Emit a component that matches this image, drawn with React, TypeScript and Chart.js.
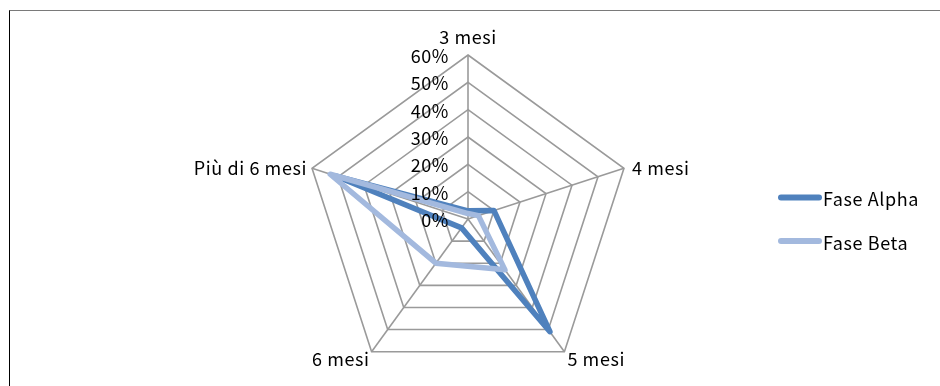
import React, { useEffect, useRef } from "react";
import { Chart, registerables } from "chart.js";

Chart.register(...registerables);

const categories = ["3 mesi", "4 mesi", "5 mesi", "6 mesi", "Più di 6 mesi"];
const faseAlpha = [3, 10, 51, 4, 51];
const faseBeta = [2, 4, 23, 20, 53];
const tickValues = [0, 10, 20, 30, 40, 50, 60];
const tickLabels = ["0%", "10%", "20%", "30%", "40%", "50%", "60%"];
const seriesNames = ["Fase Alpha", "Fase Beta"];
const seriesColors = ["#4f81bd", "#a3b9de"];

const FONT_FAMILY = '"Noto Sans CJK JP", "Noto Sans", sans-serif';
const FONT_SIZE = 18;
const LETTER_SPACING = "0.6px";

// label placement relative to the outer vertex of each axis
const labelPlacement = [
  { align: "center", dx: 0, dy: -18 },
  { align: "left", dx: 8, dy: 0 },
  { align: "left", dx: 3, dy: 7 },
  { align: "right", dx: -2, dy: 7 },
  { align: "right", dx: -5, dy: 0 },
];

const textPlugin = {
  id: "customText",
  afterDatasetsDraw(chart: any) {
    const ctx = chart.ctx;
    const scale = chart.scales.r;
    ctx.save();
    ctx.fillStyle = "#000";
    ctx.font = `${FONT_SIZE}px ${FONT_FAMILY}`;
    try {
      (ctx as any).letterSpacing = LETTER_SPACING;
    } catch (e) {}
    ctx.textBaseline = "middle";

    // tick labels along the first axis, to its left
    tickValues.forEach((v, i) => {
      const p = scale.getPointPositionForValue(0, v);
      ctx.textAlign = "right";
      ctx.fillText(tickLabels[i], p.x - 19, p.y + 1);
    });

    // point labels
    categories.forEach((c, i) => {
      const p = scale.getPointPositionForValue(i, scale.max);
      const pl = labelPlacement[i];
      ctx.textAlign = pl.align;
      ctx.fillText(c, p.x + pl.dx, p.y + pl.dy);
    });

    // legend
    const legendX = 778;
    const legendY = [197.5, 241];
    seriesNames.forEach((name, i) => {
      ctx.strokeStyle = seriesColors[i];
      ctx.lineWidth = 6;
      ctx.lineCap = "round";
      ctx.beginPath();
      ctx.moveTo(legendX + 3, legendY[i]);
      ctx.lineTo(legendX + 41, legendY[i]);
      ctx.stroke();
      ctx.textAlign = "left";
      ctx.fillText(name, legendX + 45, legendY[i] + 2);
    });
    ctx.restore();
  },
};

export default function App() {
  const canvasRef = useRef<HTMLCanvasElement | null>(null);

  useEffect(() => {
    if (!canvasRef.current) return;
    const chart = new Chart(canvasRef.current, {
      type: "radar",
      data: {
        labels: categories,
        datasets: [
          {
            label: seriesNames[0],
            data: faseAlpha,
            borderColor: seriesColors[0],
            backgroundColor: seriesColors[0],
            borderWidth: 5.5,
            fill: false,
            pointRadius: 0,
            pointHoverRadius: 0,
            borderJoinStyle: "round",
            order: 1,
          },
          {
            label: seriesNames[1],
            data: faseBeta,
            borderColor: seriesColors[1],
            backgroundColor: seriesColors[1],
            borderWidth: 5.5,
            fill: false,
            pointRadius: 0,
            pointHoverRadius: 0,
            borderJoinStyle: "round",
            order: 0,
          },
        ],
      },
      options: {
        responsive: false,
        animation: false,
        layout: { padding: { left: 304, right: 308, top: 55, bottom: 3 } },
        plugins: {
          legend: { display: false },
          tooltip: { enabled: false },
        },
        scales: {
          r: {
            min: 0,
            max: 60,
            ticks: { display: false, stepSize: 10 },
            grid: { color: "#9a9a9a", lineWidth: 1.6 },
            angleLines: { color: "#9a9a9a", lineWidth: 1.6 },
            pointLabels: { display: false },
          },
        },
      },
      plugins: [textPlugin],
    });
    return () => chart.destroy();
  }, []);

  return (
    <div
      style={{
        position: "fixed",
        left: 0,
        top: 0,
        width: 940,
        height: 386,
        background: "#fff",
        overflow: "hidden",
      }}
    >
      <div
        style={{
          position: "absolute",
          left: 9,
          top: 10,
          right: 0,
          bottom: 0,
          borderTop: "1px solid #7a7a7a",
          borderLeft: "1px solid #000",
        }}
      />
      <canvas
        ref={canvasRef}
        width={940}
        height={386}
        style={{ position: "absolute", left: 0, top: 0, width: 940, height: 386 }}
      />
    </div>
  );
}
